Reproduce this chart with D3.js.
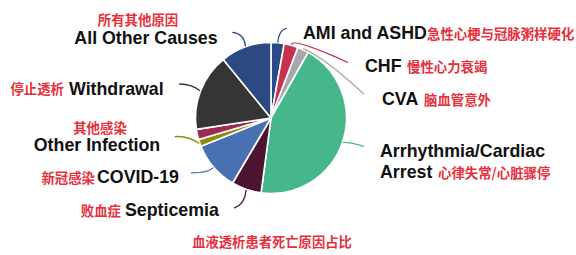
<!DOCTYPE html>
<html><head><meta charset="utf-8">
<script src="https://cdn.jsdelivr.net/npm/d3@7"></script>
<style>
html,body{margin:0;padding:0;background:#fff;}
svg{display:block;}
</style></head>
<body>
<svg id="chart" width="576" height="255"></svg>
<script>
// ---- data ----
const categories = ["AMI and ASHD","CHF","CVA","Arrhythmia/Cardiac Arrest","Septicemia","COVID-19","Other Infection","Other","Withdrawal","All Other Causes"];
const values = [2.8, 3.0, 2.4, 43.9, 6.4, 10.4, 1.5, 2.2, 16.5, 10.9];
const chineseLabels = ["急性心梗与冠脉粥样硬化","慢性心力衰竭","脑血管意外","心律失常/心脏骤停","败血症","新冠感染","其他感染","","停止透析","所有其他原因"];
const title = "血液透析患者死亡原因占比";

// ---- styles / layout ----
const colors = ["#2c4a85","#c9324f","#a6a8ab","#46b78b","#4c1532","#4a70b4","#8e8b10","#9b2b50","#353633","#2b4983"];
const cx = 271, cy = 118, R = 75.5;
const enSize = 17.8, cnSize = 13.4;
// leader: end offset & control offset from start point; label: text positions
const layout = [
  {end:[8.5,-13.5], ctrl:[1.5,-12], en:{x:303,y:39,anchor:"start"}, cn:{x:427,y:38.5,anchor:"start"}},
  {end:[56,18], ctrl:[3,-6], en:{x:365,y:72,anchor:"start"}, cn:{x:407,y:72,anchor:"start"}},
  {end:[60,45], ctrl:[20,8], en:{x:382,y:105,anchor:"start"}, cn:{x:424,y:105,anchor:"start"}},
  {end:[20,4], ctrl:[8,0], en:{x:380,y:157,anchor:"start",line2:"Arrest"}, cn:{x:438,y:178,anchor:"start"}},
  {end:[-11.5,17.5], ctrl:[-1,14], en:{x:125,y:216,anchor:"start"}, cn:{x:121,y:216,anchor:"end"}},
  {end:[-21.5,5], ctrl:[-5,5], en:{x:97,y:183,anchor:"start"}, cn:{x:95,y:183,anchor:"end"}},
  {end:[-23.5,-6.5], ctrl:[-12,-8], en:{x:97,y:150.5,anchor:"middle"}, cn:{x:100,y:132.5,anchor:"middle"}},
  null,
  {end:[-20,-6.5], ctrl:[-7,-6], en:{x:69,y:95,anchor:"start"}, cn:{x:64,y:94,anchor:"end"}},
  {end:[-12.5,-13.5], ctrl:[-1,-12], en:{x:146,y:43.5,anchor:"middle"}, cn:{x:138,y:25,anchor:"middle"}}
];

const svg = d3.select("#chart");
const pie = d3.pie().sort(null).value(d => d.v);
const arcs = pie(values.map((v,i)=>({v, i})));
const arc = d3.arc().innerRadius(0).outerRadius(R);

const g = svg.append("g").attr("transform",`translate(${cx},${cy})`);
g.selectAll("path.slice").data(arcs).join("path")
  .attr("class","slice")
  .attr("d", arc)
  .attr("fill", d => colors[d.index])
  .attr("stroke","#fff").attr("stroke-width",1.6).attr("stroke-linejoin","round");

// leaders
arcs.forEach(d => {
  const L = layout[d.index];
  if (!L) return;
  const a = (d.startAngle + d.endAngle)/2;
  const sx = Math.sin(a)*(R+1), sy = -Math.cos(a)*(R+1);
  const p = d3.path();
  p.moveTo(sx, sy);
  p.quadraticCurveTo(sx+L.ctrl[0], sy+L.ctrl[1], sx+L.end[0], sy+L.end[1]);
  g.append("path").attr("d", p.toString()).attr("fill","none")
    .attr("stroke", colors[d.index]).attr("stroke-width",1.3).attr("stroke-linecap","round");
});

// labels
const enFont = "'Liberation Sans', Arial, sans-serif";
const cnFont = "'Noto Sans CJK SC', sans-serif";
const red = "#e5303c";
categories.forEach((c,i) => {
  const L = layout[i];
  if (!L) return;
  const en = svg.append("text").attr("x",L.en.x).attr("y",L.en.y)
    .attr("text-anchor",L.en.anchor)
    .attr("font-family",enFont).attr("font-weight","bold").attr("font-size",enSize).attr("fill","#111");
  if (L.en.line2) {
    en.text(c.split(" ")[0]);
    svg.append("text").attr("x",L.en.x).attr("y",L.cn.y)
      .attr("font-family",enFont).attr("font-weight","bold").attr("font-size",enSize).attr("fill","#111")
      .text(L.en.line2);
  } else {
    en.text(c);
  }
  svg.append("text").attr("x",L.cn.x).attr("y",L.cn.y)
    .attr("text-anchor",L.cn.anchor)
    .attr("font-family",cnFont).attr("font-weight","bold").attr("font-size",cnSize).attr("fill",red)
    .text(chineseLabels[i]);
});

svg.append("text").attr("x",272).attr("y",247).attr("text-anchor","middle")
  .attr("font-family",cnFont).attr("font-weight","bold").attr("font-size",13.3).attr("fill",red)
  .text(title);
</script>
</body></html>
